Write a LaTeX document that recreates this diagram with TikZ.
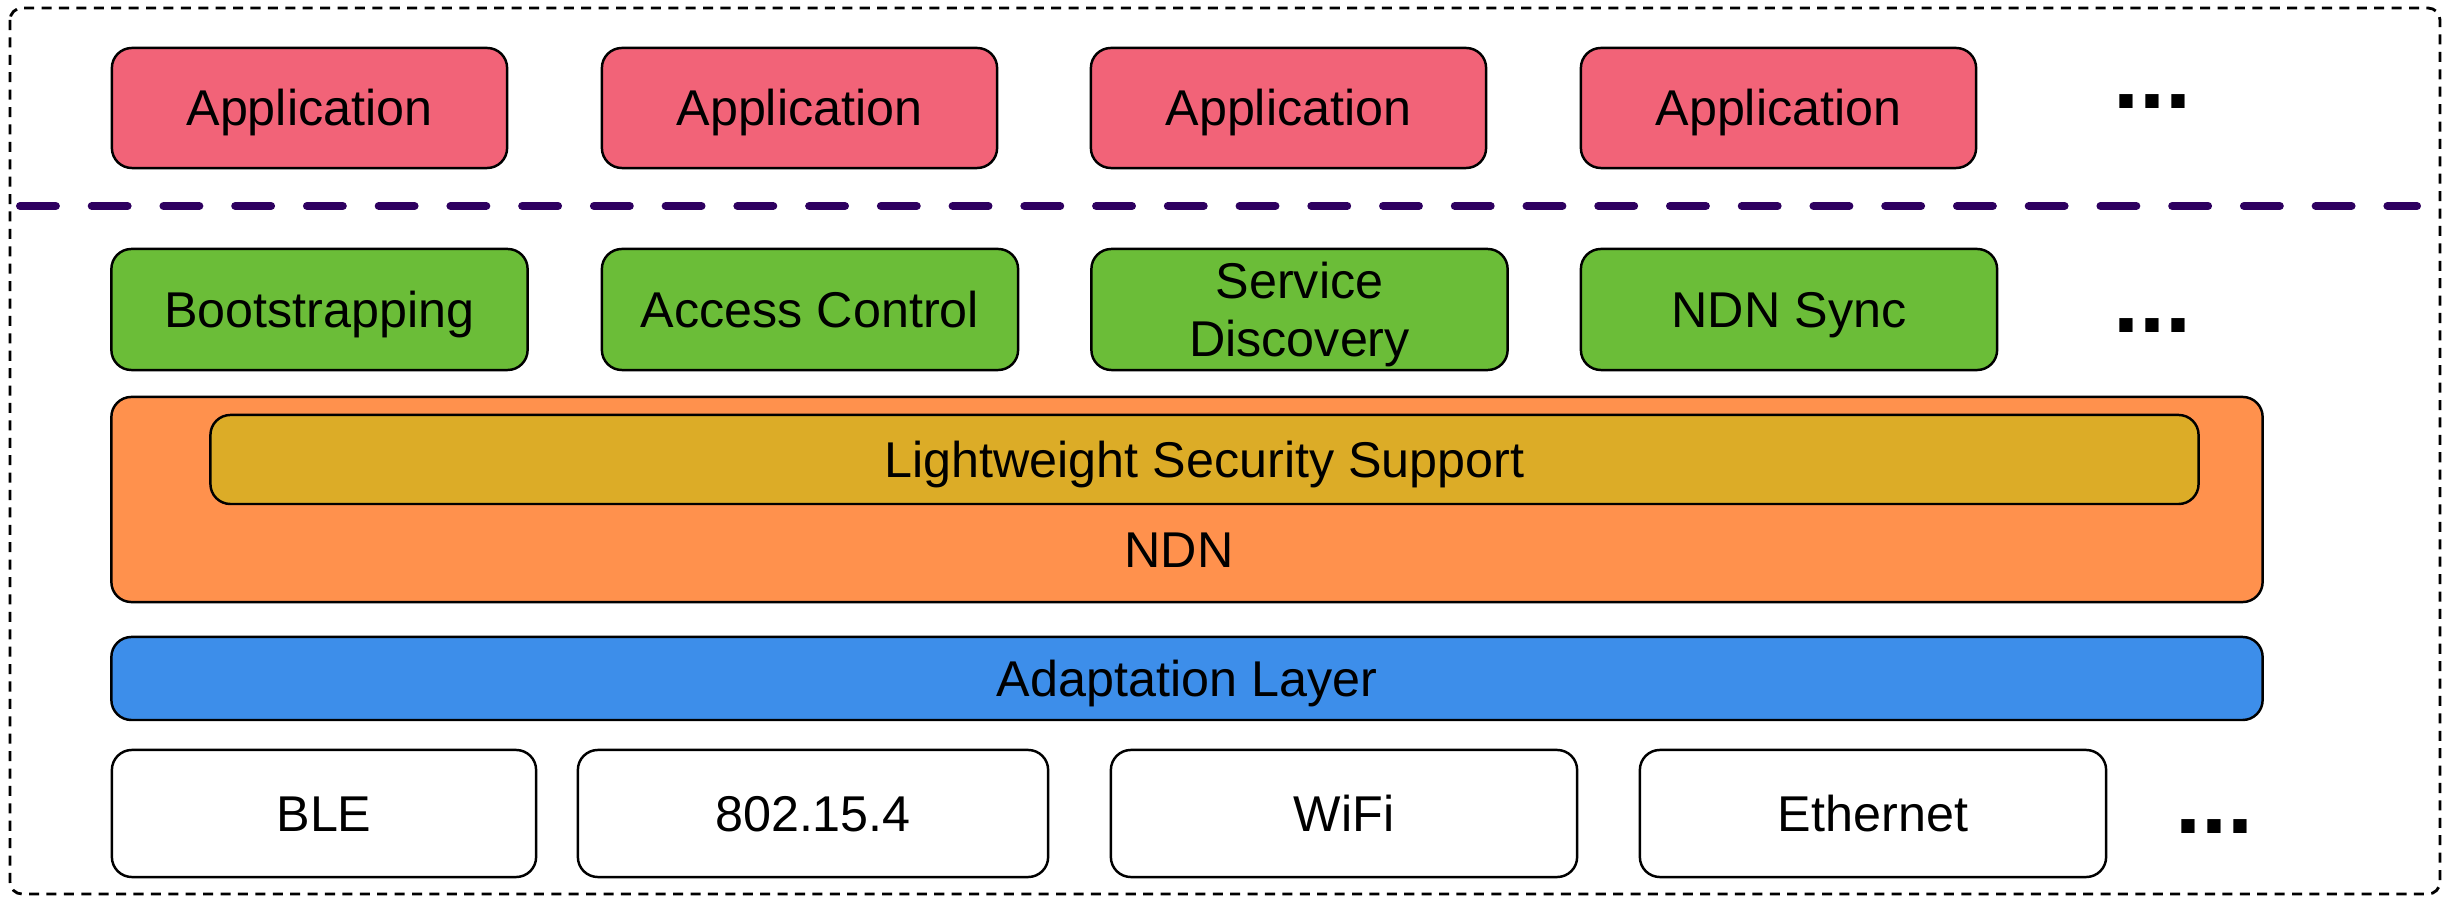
\documentclass[tikz,border=0pt]{standalone}
\usepackage{fontspec}
\setmainfont{Liberation Sans}
\definecolor{appred}{HTML}{F26378}
\definecolor{svcgreen}{HTML}{6BBD38}
\definecolor{ndnorange}{HTML}{FF914D}
\definecolor{secgold}{HTML}{DCAC27}
\definecolor{adablue}{HTML}{3D8EEA}
\definecolor{sepurple}{HTML}{2E0060}
\begin{document}
\begin{tikzpicture}[x=0.01cm,y=-0.01cm,
  box/.style={draw=black,line width=0.7pt,rounded corners=0.2cm,inner sep=0pt,outer sep=0pt,
    font=\fontsize{14.3}{16.5}\selectfont,text height=10.2pt,text depth=0pt,align=center},
  app/.style={box,fill=appred,minimum width=3.95cm,minimum height=1.2cm},
  svc/.style={box,fill=svcgreen,minimum width=4.16cm,minimum height=1.21cm},
  phy/.style={box,fill=white,minimum height=1.27cm},
  more/.style={inner sep=0pt,outer sep=0pt,font=\fontsize{26.6}{30}\selectfont\bfseries,anchor=base},
  lbl/.style={inner sep=0pt,outer sep=0pt,font=\fontsize{14.3}{16.5}\selectfont,anchor=base}]
\useasboundingbox (0,0) rectangle (2445,898);
% outer dashed frame
\draw[line width=0.8pt,dash pattern=on 2.85pt off 2.1pt,rounded corners=0.12cm] (10,8) rectangle (2440,894);
% applications
\node[app] (app1) at (309.5,108) {Application};
\node[app] (app2) at (799.5,108) {Application};
\node[app] (app3) at (1288.5,108) {Application};
\node[app] (app4) at (1778.5,108) {Application};
\node[more] (moreapp) at (2152,109) {...};
% separator
\coordinate (sepL) at (20,206);
\coordinate (sepR) at (2417,206);
\draw[sepurple,line width=2.28pt,line cap=round,dash pattern=on 10.2pt off 10.2pt] (sepL) -- (sepR);
% services
\node[svc] (boot) at (319.5,309.5) {Bootstrapping};
\node[svc] (acc) at (810,309.5) {Access Control};
\node[svc,text height=26.7pt] (sd) at (1299.5,309.5) {Service\\Discovery};
\node[svc] (sync) at (1789,309.5) {NDN Sync};
\node[more] (moresvc) at (2152,333) {...};
% NDN
\node[box,fill=ndnorange,minimum width=21.5cm,minimum height=2.05cm] (ndn) at (1187,499.5) {};
\node[box,fill=secgold,minimum width=19.87cm,minimum height=0.89cm] (sec) at (1204.5,459.5) {Lightweight Security Support};
\node[lbl] (ndnlbl) at (1179,568) {NDN};
% adaptation
\node[box,fill=adablue,minimum width=21.5cm,minimum height=0.83cm] (ada) at (1187,678.5) {Adaptation Layer};
% link layers
\node[phy,minimum width=4.24cm] (ble) at (324,813.5) {BLE};
\node[phy,minimum width=4.70cm] (zig) at (813,813.5) {802.15.4};
\node[phy,minimum width=4.66cm] (wifi) at (1344,813.5) {WiFi};
\node[phy,minimum width=4.66cm] (eth) at (1873,813.5) {Ethernet};
\node[more] (morephy) at (2214,834) {...};
\end{tikzpicture}
\end{document}
